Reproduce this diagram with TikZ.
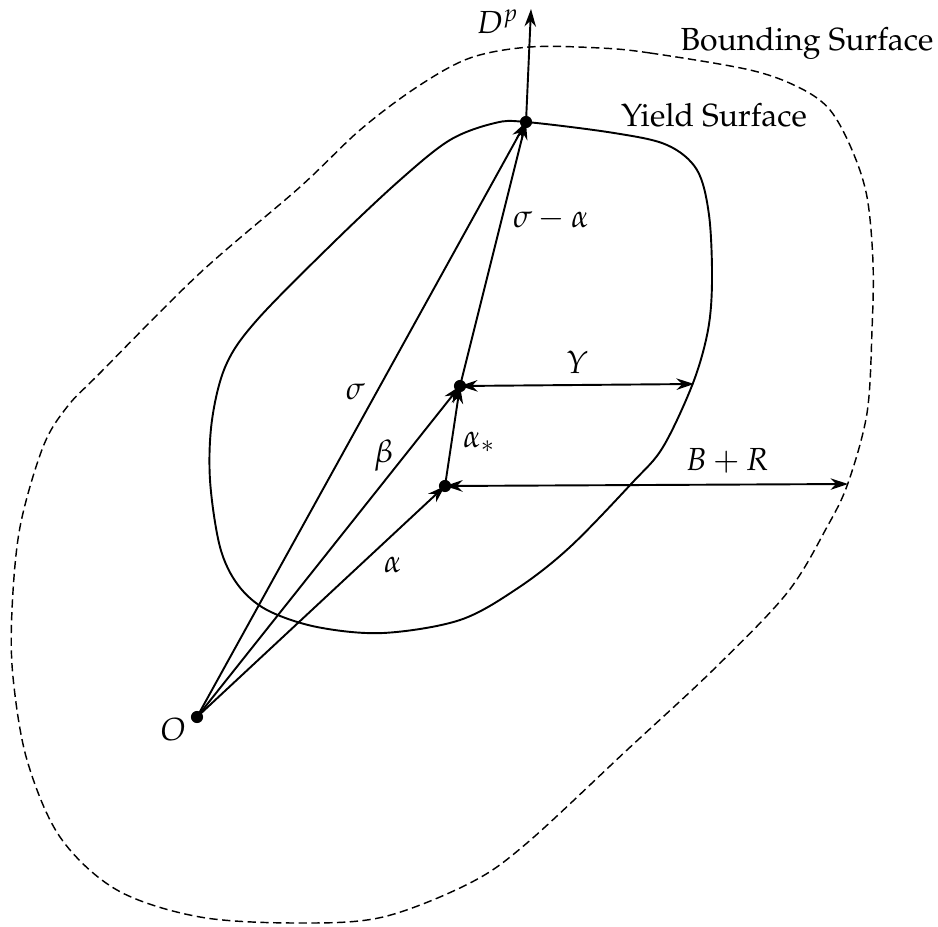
\documentclass[tikz,border=0pt]{standalone}
\usepackage{amsmath}
\usepackage[T1]{fontenc}
\usepackage{mathpazo}
\usepackage{tikz}
\usetikzlibrary{arrows.meta,calc}

\begin{document}
\begin{tikzpicture}[x=0.011cm, y=-0.011cm, >={Stealth[length=5.5pt,width=3.6pt]},
    vec/.style={->, line width=0.6pt},
    span/.style={<->, line width=0.6pt},
    surf/.style={line width=0.6pt},
    bound/.style={line width=0.45pt, dash pattern=on 2.6pt off 1.4pt}]
    \useasboundingbox (0,0) rectangle (938,926);
    \coordinate (O) at (197,717);
    \coordinate (A) at (445,486);
    \coordinate (B) at (460,386);
    \coordinate (S) at (526,122);
    \coordinate (Dp) at (531,9);
    \coordinate (Ytip) at (694,384);
    \coordinate (BRtip) at (848,484);
    % yield surface
    \draw[surf] plot[smooth cycle, tension=0.55] coordinates {
        (526,122) (614,133) (667,145) (697,170) (709,215) (712,280) (708,330)
        (693,383) (663,447) (632,483) (570,547) (518,588) (460,620) (383,633)
        (317,627) (267,610) (238,585) (220,547) (210,480) (212,420) (226,365)
        (257,320) (333,243) (400,180) (450,140) (495,123)};
    % bounding surface
    \draw[bound] plot[smooth cycle, tension=0.55] coordinates {
        (600,48) (650,53) (750,70) (800,88) (830,110) (852,150) (867,197)
        (873,263) (872,330) (867,413) (848,483) (827,527) (787,593) (713,670)
        (627,750) (527,843) (470,883) (383,917) (300,923) (200,917) (117,890)
        (60,837) (27,760) (13,677) (12,610) (20,527) (43,447) (67,407) (100,373)
        (200,273) (300,187) (360,130) (417,87) (470,58) (530,47)};
    \node at (807,43) {Bounding Surface};
    \node at (714,115) {Yield Surface};
    % vectors
    \draw[vec] (O) -- (S) node[pos=0.546, left] {$\sigma$};
    \draw[vec] (O) -- (B) node[pos=0.79, left] {$\beta$};
    \draw[vec] (O) -- (A) node[pos=0.79, below=3.5pt] {$\alpha$};
    \draw[vec] (A) -- (B) node[pos=0.44, right] {$\alpha_*$};
    \draw[vec] (B) -- (S) node[pos=0.63, right] {$\sigma - \alpha$};
    \draw[vec] (S) -- (Dp) node[pos=0.89, left] {$D^p$};
    \draw[span] (B) -- (Ytip) node[midway, above] {$Y$};
    \draw[span] (A) -- (BRtip) node[pos=0.7, above] {$B + R$};
    \foreach \p in {O,A,B,S}
        \fill (\p) circle (1.9pt);
    \node[left, yshift=-4pt] at (O) {$O$};
\end{tikzpicture}
\end{document}
